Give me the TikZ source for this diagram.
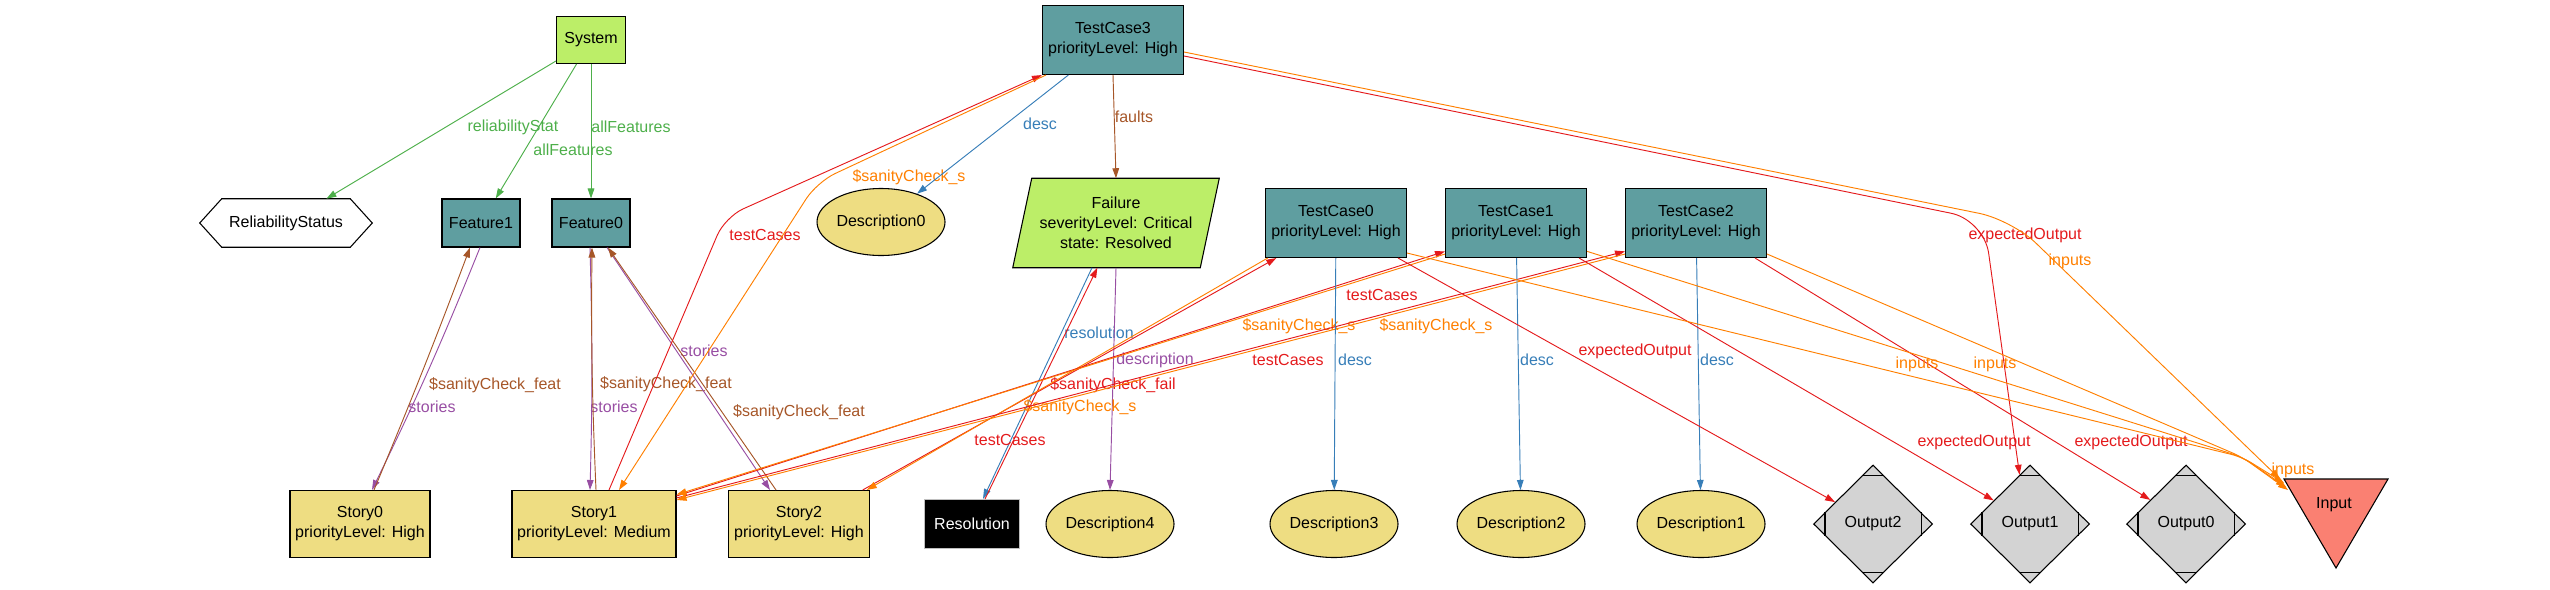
\documentclass[tikz,border=0pt]{standalone}
\usepackage{fontspec}
\setmainfont{Liberation Sans}
\usetikzlibrary{arrows.meta,shapes.geometric,backgrounds}

\definecolor{olivefill}{HTML}{BCEE68}
\definecolor{cadetfill}{HTML}{5F9EA0}
\definecolor{goldfill}{HTML}{EEDD82}
\definecolor{greyfill}{HTML}{D3D3D3}
\definecolor{salmonfill}{HTML}{FA8072}
\definecolor{setred}{HTML}{E41A1C}
\definecolor{setblue}{HTML}{377EB8}
\definecolor{setgreen}{HTML}{4DAF4A}
\definecolor{setpurple}{HTML}{984EA3}
\definecolor{setorange}{HTML}{FF7F00}
\definecolor{setbrown}{HTML}{A65628}

\tikzset{
  gbox/.style={draw, line width=0.8pt, inner sep=2pt, align=center},
  feat/.style={gbox, fill=cadetfill, minimum width=58.5pt, minimum height=36pt},
  tcase/.style={gbox, fill=cadetfill, minimum width=105.75pt, minimum height=51.75pt},
  story/.style={gbox, fill=goldfill, minimum height=50.25pt},
  descr/.style={ellipse, draw, line width=0.8pt, fill=goldfill, inner sep=0pt, minimum width=96pt, minimum height=50.25pt},
  outp/.style={diamond, draw, line width=0.8pt, fill=greyfill, inner sep=0pt, minimum width=89.25pt, minimum height=88.5pt},
  rel/.style={line width=0.7pt, -{Triangle[length=7.5pt,width=5pt]}},
  lbl/.style={inner sep=0pt},
  ge/.style={rel, color=setgreen},
  re/.style={rel, color=setred},
  oe/.style={rel, color=setorange},
  be/.style={rel, color=setbrown},
  pe/.style={rel, color=setpurple},
  ble/.style={rel, color=setblue}
}

\begin{document}
\begin{tikzpicture}[x=0.75pt, y=-0.75pt, font=\fontsize{12pt}{15pt}\selectfont]
\useasboundingbox (0,0) rectangle (2550,589);

\node[gbox, fill=olivefill, minimum width=51.75pt, minimum height=35.25pt] (sys) at (591,40) {System};
\node[tcase] (tc3) at (1113,40) {TestCase3\\priorityLevel: High};

\node[minimum width=129pt, minimum height=36pt, inner sep=0pt] (rs) at (286,223) {ReliabilityStatus};
\node[feat] (f1) at (481,223) {Feature1};
\node[feat] (f0) at (591,223) {Feature0};
\node[descr] (d0) at (881,222) {Description0};
\node[align=center, minimum width=154.5pt, minimum height=66.75pt, inner sep=0pt] (fl) at (1116,223) {Failure\\severityLevel: Critical\\state: Resolved};
\node[tcase] (tc0) at (1336,223) {TestCase0\\priorityLevel: High};
\node[tcase] (tc1) at (1516,223) {TestCase1\\priorityLevel: High};
\node[tcase] (tc2) at (1696,223) {TestCase2\\priorityLevel: High};

\node[story, minimum width=105pt] (s0) at (360,524) {Story0\\priorityLevel: High};
\node[story, minimum width=123pt] (s1) at (594,524) {Story1\\priorityLevel: Medium};
\node[story, minimum width=105.75pt] (s2) at (799,524) {Story2\\priorityLevel: High};
\node[gbox, fill=black, draw=lightgray, text=white, minimum width=71.25pt, minimum height=36.75pt] (res) at (972,524) {Resolution};
\node[descr] (d4) at (1110,524) {Description4};
\node[descr] (d3) at (1334,524) {Description3};
\node[descr] (d2) at (1521,524) {Description2};
\node[descr] (d1) at (1701,524) {Description1};
\node[outp] (o2) at (1873,524) {Output2};
\node[outp] (o1) at (2030,524) {Output1};
\node[outp] (o0) at (2186,524) {Output0};
\node (inp) at (2334,505) {Input};

\begin{scope}[on background layer]
\filldraw[fill=white, line width=0.8pt] (rs.west) -- ([xshift=16.5pt]rs.north west) -- ([xshift=-16.5pt]rs.north east) -- (rs.east) -- ([xshift=-16.5pt]rs.south east) -- ([xshift=16.5pt]rs.south west) -- cycle;
\filldraw[fill=olivefill, line width=0.8pt] ([xshift=14.25pt]fl.north west) -- (fl.north east) -- ([xshift=-14.25pt]fl.south east) -- (fl.south west) -- cycle;
\filldraw[fill=salmonfill, line width=0.8pt] ([shift={(-50,-26)}]inp.center) -- ([shift={(54,-26)}]inp.center) -- ([shift={(2,63)}]inp.center) -- cycle;
\end{scope}

\foreach \o in {o0,o1,o2}
{
\draw[line width=0.8pt] ([shift={(-11,11)}]\o.north) -- ([shift={(11,11)}]\o.north);
\draw[line width=0.8pt] ([shift={(-11,-11)}]\o.south) -- ([shift={(11,-11)}]\o.south);
\draw[line width=0.8pt] ([shift={(12,-12)}]\o.west) -- ([shift={(12,12)}]\o.west);
\draw[line width=0.8pt] ([shift={(-12,-12)}]\o.east) -- ([shift={(-12,12)}]\o.east);
}

\draw[ge] (sys) -- (rs) node[lbl] (lrs) at (513,127) {reliabilityStat};
\draw[ge] (sys) -- (f1) node[lbl] (laf1) at (573,150) {allFeatures};
\draw[ge] (sys) -- (f0) node[lbl] (laf0) at (631,127) {allFeatures};

\draw[pe] ([xshift=-0.75pt]f1.south) to[bend left=2] ([xshift=9pt]s0.north) node[lbl] (lst0) at (432,407) {stories};
\draw[be] ([xshift=10.5pt]s0.north) to[bend right=1] ([xshift=-8.25pt]f1.south) node[lbl] (lsf0) at (495,385) {\$sanityCheck\_feat};
\draw[pe] ([xshift=-0.75pt]f0.south) to[bend left=1.5] ([xshift=-3pt]s1.north) node[lbl] (lst1) at (614,407) {stories};
\draw[be] ([xshift=1.5pt]s1.north) to[bend left=1.5] ([xshift=0.75pt]f0.south) node[lbl] (lsf1) at (666,384) {\$sanityCheck\_feat};
\draw[pe] ([xshift=12pt]f0.south) -- ([xshift=-21.75pt]s2.north) node[lbl] (lst2) at (704,351) {stories};
\draw[be] ([xshift=-17.25pt]s2.north) -- ([xshift=12.75pt]f0.south) node[lbl] (lsf2) at (799,412) {\$sanityCheck\_feat};

\draw[re, rounded corners=15pt] ([xshift=11.25pt]s1.north) -- (725,217) -- (tc3.south west) node[lbl] (ltc3) at (765,235) {testCases};
\draw[oe, rounded corners=15pt] ([xshift=3pt]tc3.south west) -- (817,182) -- ([xshift=18.75pt]s1.north) node[lbl] (lsc3) at (909,177) {\$sanityCheck\_s};
\draw[ble] (tc3) -- (d0) node[lbl] (ld0) at (1040,124) {desc};
\draw[be] (tc3.south) -- (fl.north) node[lbl] (lfl) at (1134,117) {faults};
\draw[re, rounded corners=25pt] ([yshift=-12pt]tc3.east) -- (1984,220) -- (o1.102) node[lbl] (leo3) at (2025,235) {expectedOutput};
\draw[oe, rounded corners=25pt] ([yshift=-9pt]tc3.east) -- (2012,220) -- ([shift={(-54,-26)}]inp.center) node[lbl] (lin3) at (2070,261) {inputs};

\draw[ble] ([xshift=-18pt]fl.south) -- ([xshift=8.25pt]res.north) node[lbl] (lres) at (1099,333) {resolution};
\draw[re] ([xshift=9.75pt]res.north) -- ([xshift=-14pt]fl.south) node[lbl] (lscf) at (1113,385) {\$sanityCheck\_fail};
\draw[pe] (fl.south) -- (d4.north) node[lbl] (ldsc) at (1155,360) {description};

\draw[re] ([xshift=-5.5pt]s2.north east) -- ([xshift=8.5pt]tc0.south west) node[lbl] (ltc0) at (1010,440) {testCases};
\draw[oe] ([xshift=2pt]tc0.south west) -- ([xshift=-2.5pt]s2.north east) node[lbl] (lsc0) at (1080,407) {\$sanityCheck\_s};
\draw[re] ([yshift=-4.5pt]s1.north east) -- ([yshift=5pt]tc1.south west) node[lbl] (ltc1) at (1382,295) {testCases};
\draw[oe] ([yshift=3pt]tc1.south west) -- ([yshift=-3.5pt]s1.north east) node[lbl] (lsc1) at (1299,326) {\$sanityCheck\_s};
\draw[re] ([yshift=-6pt]s1.north east) -- ([yshift=5pt]tc2.south west) node[lbl] (ltc2) at (1288,360) {testCases};
\draw[oe] ([yshift=3pt]tc2.south west) -- ([yshift=-7.5pt]s1.north east) node[lbl] (lsc2) at (1436,326) {\$sanityCheck\_s};

\foreach \t/\d/\x in {tc0/d3/1355, tc1/d2/1537, tc2/d1/1717}
{
\draw[ble] (\t) -- (\d) node[lbl] (l\d) at (\x,360) {desc};
}
\draw[re] ([xshift=-6.75pt]tc0.south east) -- (o2.150) node[lbl] (leo0) at (1635,351) {expectedOutput};
\draw[re] ([xshift=-6pt]tc1.south east) -- (o1.147) node[lbl] (leo1) at (1974,442) {expectedOutput};
\draw[re] ([xshift=-9pt]tc2.south east) -- (o0.146) node[lbl] (leo2) at (2131,442) {expectedOutput};

\coordinate (inmerge) at (2242,457);
\draw[oe, rounded corners=8pt] ([yshift=3.75pt]tc0.south east) -- (inmerge) -- ([shift={(-50,-22)}]inp.center) node[lbl] (lin0) at (1917,364) {inputs};
\draw[oe, rounded corners=8pt] ([yshift=5pt]tc1.south east) -- (inmerge) -- ([shift={(-48,-18)}]inp.center) node[lbl] (lin1) at (2293,470) {inputs};
\draw[oe, rounded corners=8pt] ([yshift=3pt]tc2.south east) -- (inmerge) -- ([shift={(-46,-15)}]inp.center) node[lbl] (lin2) at (1995,364) {inputs};
\end{tikzpicture}
\end{document}
